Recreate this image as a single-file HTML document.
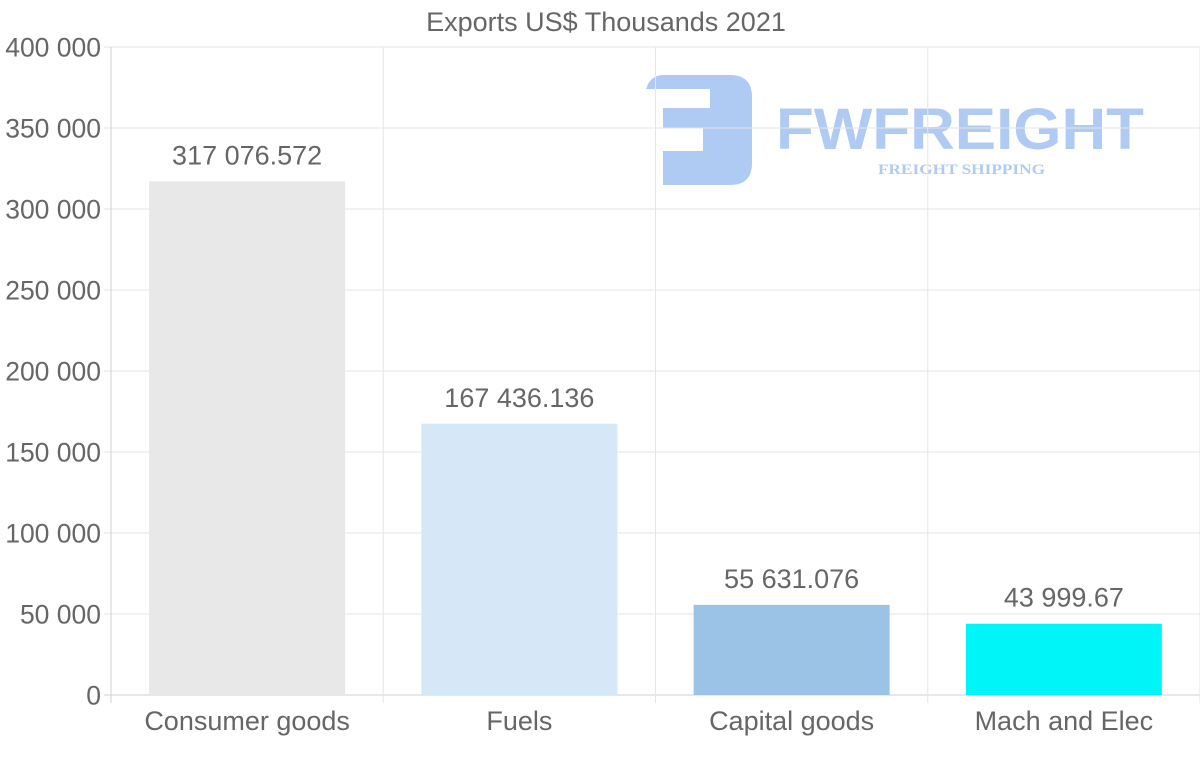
<!DOCTYPE html>
<html><head><meta charset="utf-8"><style>
html,body{margin:0;padding:0;background:#fff;}
svg{display:block;font-family:"Liberation Sans",sans-serif;}
</style></head><body>
<svg id="chart" width="1200" height="763">
<text x="606" y="31" text-anchor="middle" font-size="27" fill="#666">Exports US$ Thousands 2021</text>
<g>
<path d="M646 89 Q650 76 662 75 H730 Q752 75 752 97 V163 Q752 185 730 185 H663 V151 H703 V128 H663 V108 H710 V89 Z" fill="#b0cbf3"/>
<text x="776" y="149" font-size="58" font-weight="bold" fill="#b0cbf3" textLength="368" lengthAdjust="spacingAndGlyphs">FWFREIGHT</text>
<text x="878" y="174" font-size="15" font-weight="bold" fill="#b0cbf3" font-family="Liberation Serif, serif" textLength="167" lengthAdjust="spacingAndGlyphs">FREIGHT SHIPPING</text>
</g>
<g id="grid"></g><g id="bars"></g><g id="labels"></g>
</svg>
<script>
const categories=["Consumer goods","Fuels","Capital goods","Mach and Elec"];
const values=[317076.572,167436.136,55631.076,43999.67];
const valueLabels=["317 076.572","167 436.136","55 631.076","43 999.67"];
const barColors=["#e8e8e8","#d6e7f8","#9ac3e6","#00f5f8"];
const yTicks=[0,50000,100000,150000,200000,250000,300000,350000,400000];
const yTickLabels=["0","50 000","100 000","150 000","200 000","250 000","300 000","350 000","400 000"];
const NS="http://www.w3.org/2000/svg";
const L=111,R=1200,T=47,B=695,yMax=400000;
const y=v=>B-(v/yMax)*(B-T);
const bw=(R-L)/categories.length;
const x=i=>L+bw*i;
function mk(tag,attrs,parent){const e=document.createElementNS(NS,tag);for(const k in attrs)e.setAttribute(k,attrs[k]);parent.appendChild(e);return e;}
const grid=document.getElementById('grid'),bars=document.getElementById('bars'),labels=document.getElementById('labels');
yTicks.forEach((t,i)=>{
 const ln=mk('line',{x1:L-7,x2:R,y1:y(t),y2:y(t),stroke:t===0?'#d0d0d0':'#e6e6e6','stroke-width':1},grid);
 
 
 const tx=mk('text',{x:L-10,y:y(t)+9.5,'text-anchor':'end','font-size':26.5,fill:'#666'},grid);
 tx.textContent=yTickLabels[i];
 
 
});
for(let i=0;i<=categories.length;i++){
 const ln=mk('line',{x1:x(i),x2:x(i),y1:T,y2:B+8,stroke:i===0?'#d0d0d0':'#e6e6e6','stroke-width':1},grid);
 
 
}
categories.forEach((c,i)=>{
 const w=bw*0.72,cx=x(i)+bw/2;
 const r=mk('rect',{x:cx-w/2,y:y(values[i]),width:w,height:B-y(values[i]),fill:barColors[i]},bars);
 
 
 const v=mk('text',{x:cx,y:y(values[i])-17,'text-anchor':'middle','font-size':27,fill:'#666'},labels);
 v.textContent=valueLabels[i];
 
 
 const cl=mk('text',{x:cx,y:730,'text-anchor':'middle','font-size':27,fill:'#666'},labels);
 cl.textContent=c;
 
 
});
</script>
</body></html>
